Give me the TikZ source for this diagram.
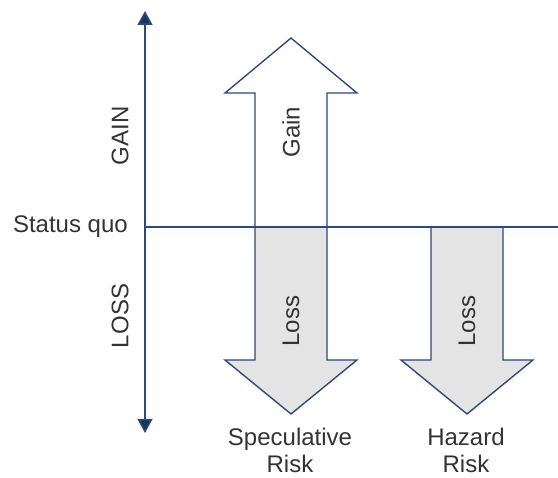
\documentclass[tikz,border=0pt]{standalone}
\usepackage{fontspec}
\setmainfont{Liberation Sans}
\usetikzlibrary{arrows.meta}
\definecolor{axisblue}{HTML}{2B4A78}
\definecolor{tipblue}{HTML}{17365F}
\definecolor{lossgray}{HTML}{E4E4E4}
\definecolor{txt}{HTML}{333333}
\tikzset{
  axisline/.style={draw=axisblue, line width=1.6pt},
  blockarrow/.style={draw=axisblue, line width=1.4pt, line join=miter},
  label/.style={text=txt, font=\fontsize{24}{27}\selectfont, inner sep=0pt},
}
% A block arrow: shaft 72 wide, head 132 wide
\newcommand{\uparrowblock}[3]{% center x, base y, tip y
  \filldraw[blockarrow, fill=white]
    (#1-36,#2) -- (#1-36,93) -- (#1-66,93) -- (#1,#3) -- (#1+66,93)
    -- (#1+36,93) -- (#1+36,#2) -- cycle;}
\newcommand{\downarrowblock}[3]{% center x, start y, tip y
  \filldraw[blockarrow, fill=lossgray]
    (#1-36,#2) -- (#1-36,360) -- (#1-66,360) -- (#1,#3) -- (#1+66,360)
    -- (#1+36,360) -- (#1+36,#2) -- cycle;}
\begin{document}
\begin{tikzpicture}[x=1pt, y=-1pt]
  \useasboundingbox (0,0) rectangle (558,478);

  % block arrows
  \uparrowblock{291}{227}{38}
  \downarrowblock{291}{227}{414}
  \downarrowblock{467}{227}{414}

  % status quo baseline and value axis
  \coordinate (sqL) at (145,227);
  \coordinate (sqR) at (558,227);
  \coordinate (axTop) at (145,11);
  \coordinate (axBot) at (145,433);
  \draw[axisline] (sqL) -- (sqR);
  \draw[axisline, {Triangle[length=14pt, width=15pt, fill=tipblue]}-{Triangle[length=14pt, width=15pt, fill=tipblue]}]
    (axBot) -- (axTop);

  % labels
  \node[label, anchor=east] (status) at (128,227) {Status quo};
  \node[label, rotate=90] (gainAx) at (120,136) {GAIN};
  \node[label, rotate=90] (lossAx) at (120,316) {LOSS};
  \node[label, rotate=90] (gainIn) at (291,132) {Gain};
  \node[label, rotate=90] (lossSp) at (291,321) {Loss};
  \node[label, rotate=90] (lossHz) at (467,321) {Loss};
  \node[label, align=center] (spec) at (290,450) {Speculative\\Risk};
  \node[label, align=center] (haz) at (466,450) {Hazard\\Risk};
\end{tikzpicture}
\end{document}
